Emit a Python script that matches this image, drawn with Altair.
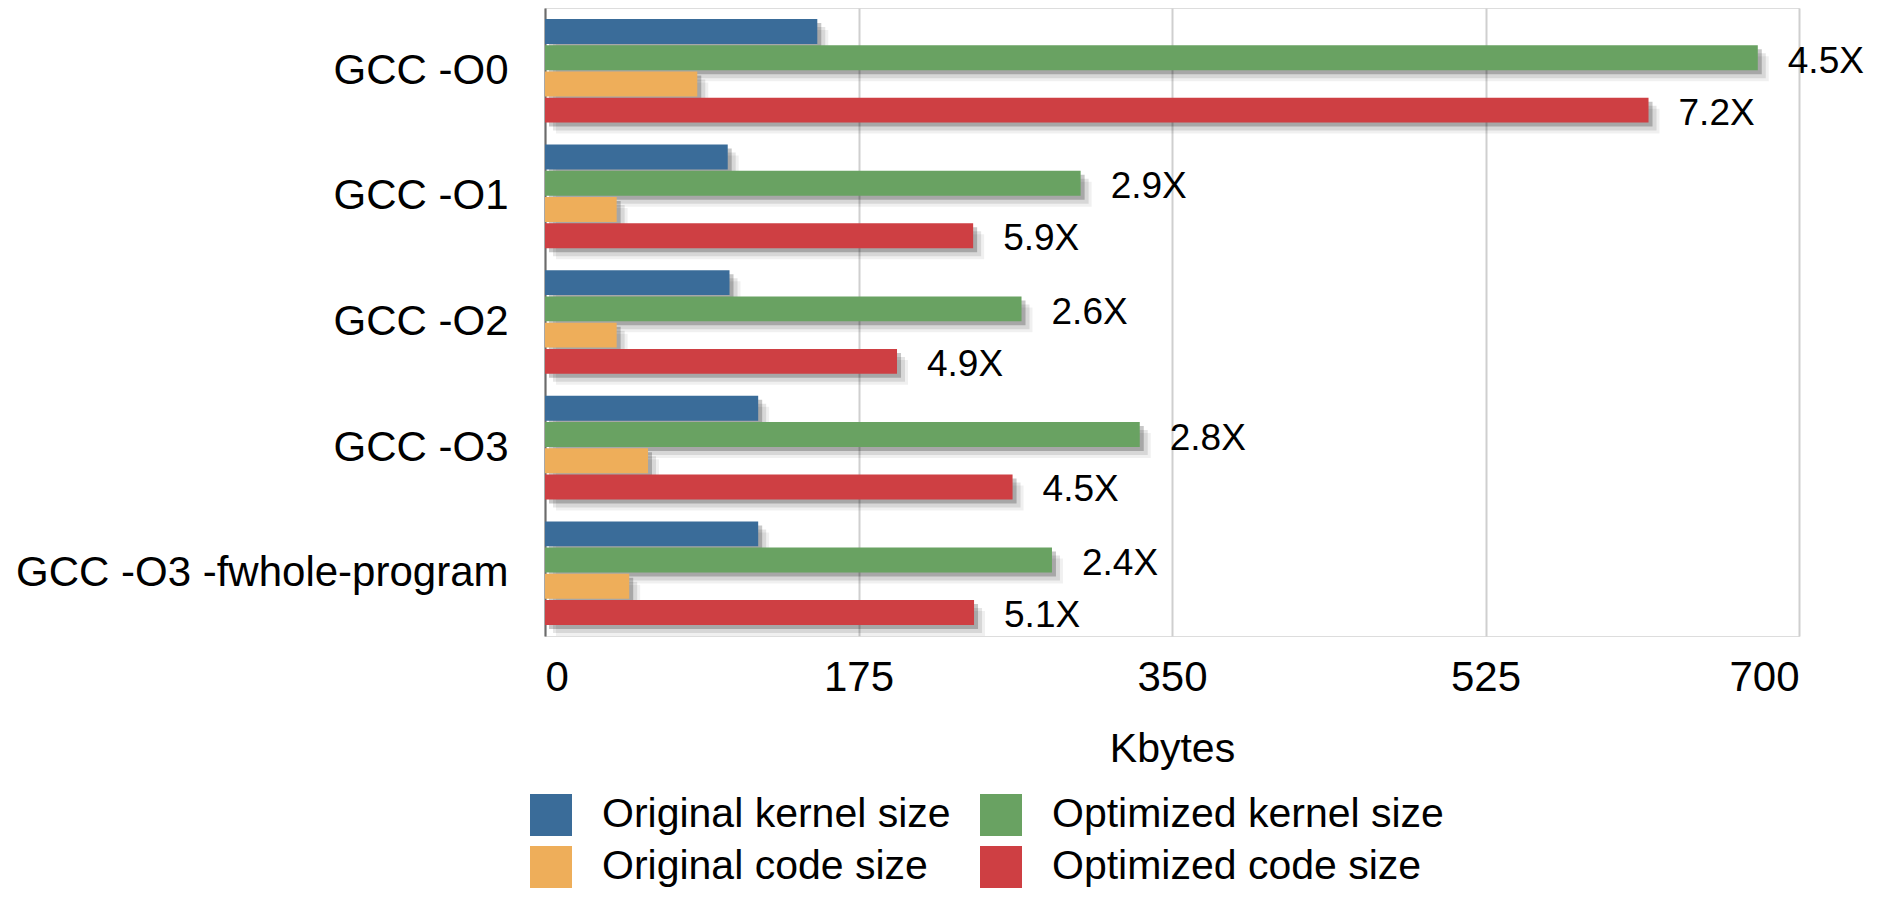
import altair as alt
import pandas as pd

groups = ["GCC -O0", "GCC -O1", "GCC -O2", "GCC -O3", "GCC -O3 -fwhole-program"]
series_order = ["Original kernel size", "Optimized kernel size", "Original code size", "Optimized code size"]
legend_order = ["Original kernel size", "Original code size", "Optimized kernel size", "Optimized code size"]
legend_colors = ["#3A6C99", "#EEAE5A", "#69A262", "#CE3F43"]

orig_kernel = [152, 102, 103, 119, 119]
opt_kernel = [677, 299, 266, 332, 283]
orig_code = [85, 40, 40, 57.5, 47]
opt_code = [616, 239, 196.5, 261, 239.5]
kernel_labels = ["4.5X", "2.9X", "2.6X", "2.8X", "2.4X"]
code_labels = ["7.2X", "5.9X", "4.9X", "4.5X", "5.1X"]
x_ticks = [0, 175, 350, 525, 700]

rows = []
for i, g in enumerate(groups):
    rows.append({"group": g, "series": series_order[0], "value": orig_kernel[i], "label": ""})
    rows.append({"group": g, "series": series_order[1], "value": opt_kernel[i], "label": kernel_labels[i]})
    rows.append({"group": g, "series": series_order[2], "value": orig_code[i], "label": ""})
    rows.append({"group": g, "series": series_order[3], "value": opt_code[i], "label": code_labels[i]})
df = pd.DataFrame(rows)

FONT = "Liberation Sans"
W, H = 1254, 628
PAD_IN, PAD_OUT = 0.175, 0.0875
BANDWIDTH = H / len(groups) * (1 - PAD_IN)

y_enc = alt.Y(
    "group:N", sort=groups,
    scale=alt.Scale(paddingInner=PAD_IN, paddingOuter=PAD_OUT),
    axis=alt.Axis(title=None, labelFontSize=42, labelPadding=37, ticks=False, tickSize=0,
                  domainColor="#6b6b6b", domainWidth=2, labelColor="black", labelLimit=1000,
                  labelFont=FONT, grid=False),
)
x_enc = alt.X(
    "value:Q", scale=alt.Scale(domain=[0, 700], nice=False),
    axis=alt.Axis(values=x_ticks, grid=True, gridColor="#cfcfcf", gridWidth=2, domain=False,
                  ticks=False, tickSize=0, labelFontSize=42, labelPadding=21, labelColor="black",
                  labelFont=FONT, title="Kbytes", titleFontSize=41, titleFontWeight="normal",
                  titleFont=FONT, titleColor="black", titlePadding=31),
)


def yoff(shift):
    return alt.YOffset("series:N", sort=series_order,
                       scale=alt.Scale(domain=series_order, paddingInner=0.05,
                                       range=[shift, shift + BANDWIDTH]))


def layer_base(shift):
    return alt.Chart(df).encode(y=y_enc, x=x_enc, yOffset=yoff(shift))


shadow3 = layer_base(11).mark_bar(color="black", opacity=0.06, xOffset=11, x2Offset=11)
shadow2 = layer_base(8).mark_bar(color="black", opacity=0.10, xOffset=8, x2Offset=8)
shadow1 = layer_base(4).mark_bar(color="black", opacity=0.22, xOffset=4, x2Offset=4)

bars = layer_base(0).mark_bar().encode(
    color=alt.Color(
        "series:N",
        scale=alt.Scale(domain=legend_order, range=legend_colors),
        legend=alt.Legend(
            title=None, orient="none", legendX=-15, legendY=786, columns=2,
            symbolType="square", symbolSize=1764, symbolStrokeWidth=0,
            labelFontSize=41, labelFont=FONT, labelColor="black", labelOffset=30,
            rowPadding=10, columnPadding=29, labelLimit=1000,
        ),
    )
)

labels = layer_base(0).transform_filter(alt.datum.label != "").mark_text(
    align="left", baseline="middle", dx=30, dy=4, fontSize=37, font=FONT, color="black"
).encode(text="label:N")

chart = alt.layer(shadow3, shadow2, shadow1, bars, labels).resolve_scale(
    yOffset="independent"
).properties(
    width=W, height=H,
    autosize=alt.AutoSizeParams(type="none"),
    padding={"left": 537, "top": 0, "right": 82, "bottom": 253},
).configure_view(stroke=None).configure(font=FONT)

chart.save("out.html", embed_options={"renderer": "svg", "actions": False})
